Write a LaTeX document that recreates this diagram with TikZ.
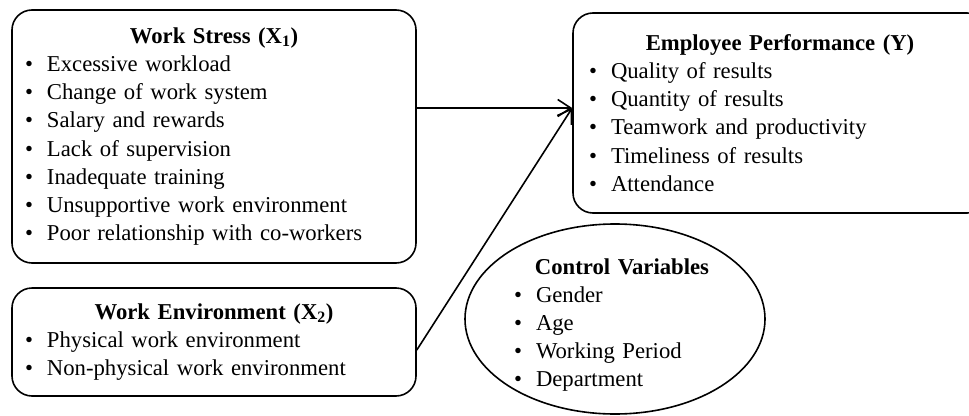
\documentclass[tikz,border=0pt]{standalone}
\usepackage{fontspec}
\setmainfont{Liberation Serif}
\usetikzlibrary{arrows.meta,positioning,shapes.geometric}
\newcommand{\ttl}[1]{\makebox[\linewidth]{\bfseries #1}}
\newcommand{\itm}[1]{\makebox[22pt][l]{\textbullet}#1}

\begin{document}
\begin{tikzpicture}[x=1pt,y=-1pt,line width=1.6pt,
  font=\fontsize{22.7}{28.2}\selectfont,
  arr/.style={-{Straight Barb[length=13pt,width=17pt]}},
  b/.style={draw,rounded corners=20pt,align=left,inner ysep=0pt}]
\useasboundingbox (0,0) rectangle (969,415);
\node[b,minimum width=404pt,minimum height=253pt,inner xsep=13pt,text width=378pt] (ws) at (214,136.5)
  {\ttl{Work Stress (X\textsubscript{1})}\\
   \itm{Excessive workload}\\
   \itm{Change of work system}\\
   \itm{Salary and rewards}\\
   \itm{Lack of supervision}\\
   \itm{Inadequate training}\\
   \itm{Unsupportive work environment}\\
   \itm{Poor relationship with co-workers}};
\node[b,minimum width=404pt,minimum height=108pt,inner xsep=13pt,text width=378pt] (we) at (214,342)
  {\ttl{Work Environment (X\textsubscript{2})}\\
   \itm{Physical work environment}\\
   \itm{Non-physical work environment}};
\node[b,minimum width=414pt,minimum height=200pt,inner xsep=16pt,text width=382pt] (ep) at (780,113)
  {\ttl{Employee Performance (Y)}\\
   \itm{Quality of results}\\
   \itm{Quantity of results}\\
   \itm{Teamwork and productivity}\\
   \itm{Timeliness of results}\\
   \itm{Attendance}};
\node[draw,ellipse,minimum width=300pt,minimum height=190pt] (cv) at (615,319) {};
\node[align=left,text width=216pt,inner sep=0pt] (cvl) at (622,325)
  {\ttl{Control Variables}\\
   \itm{Gender}\\
   \itm{Age}\\
   \itm{Working Period}\\
   \itm{Department}};
\coordinate (hit) at ([yshift=5pt]ep.west);
\draw[arr] (ws.east |- hit) -- (hit);
\draw[arr] ([yshift=-8pt]we.east) -- (hit);
\end{tikzpicture}
\end{document}
